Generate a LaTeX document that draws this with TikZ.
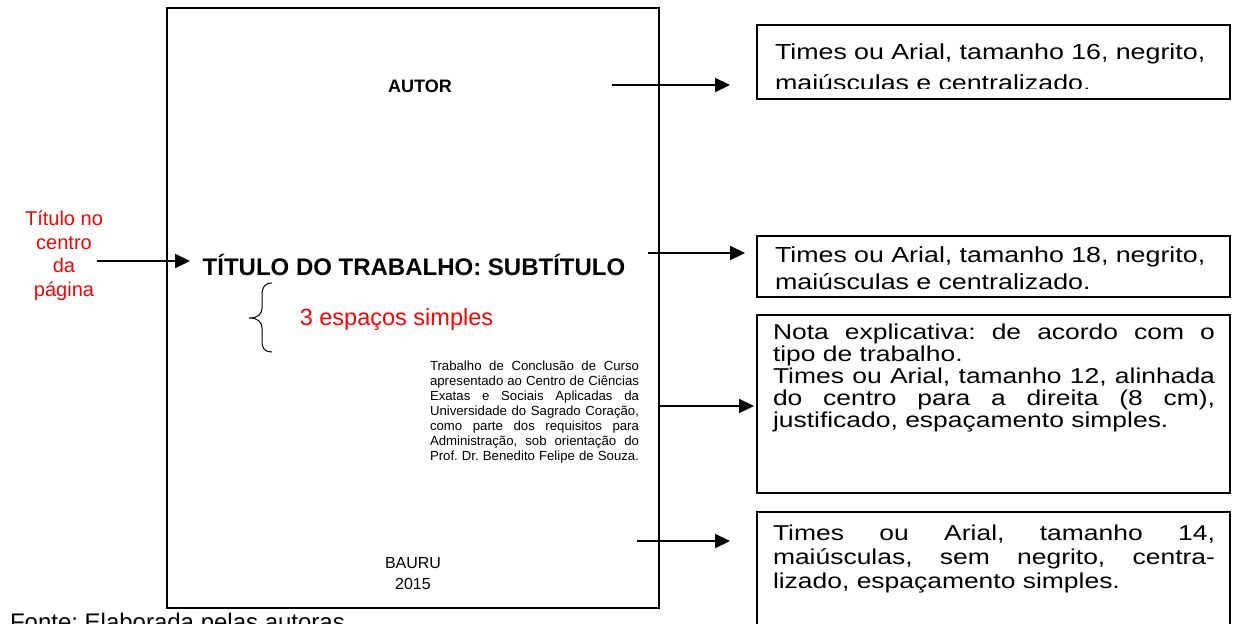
\documentclass[tikz,border=0pt]{standalone}
\usepackage{fontspec}
\setmainfont{Liberation Sans}
\newfontfamily\boxfont[FakeStretch=1.23]{Liberation Sans}
\usetikzlibrary{arrows.meta}
\definecolor{redtxt}{RGB}{255,0,0}
\frenchspacing
\begin{document}
\begin{tikzpicture}[x=1pt,y=-1pt,
  every node/.style={inner sep=0pt, outer sep=0pt},
  arr/.style={line width=2.2pt, -{Triangle[length=15pt,width=14pt]}},
  rbox/.style={draw, line width=1.6pt, minimum width=473pt},
  pagebox/.style={draw, line width=1.6pt},
  boxtxt/.style={anchor=base west, text width=#1, align=left},
  jtxt/.style={anchor=base west, text width=#1, align=justify},
  redlabel/.style={text=redtxt}]
\useasboundingbox (0,0) rectangle (1243,624);
\clip (0,0) rectangle (1243,624);

% page
\node[pagebox, minimum width=492pt, minimum height=600pt] (page) at (413,308) {};

\node[anchor=base, font={\bfseries\fontsize{18pt}{21pt}\selectfont}] (autor) at (420,92) {AUTOR};
\node[anchor=base, font={\bfseries\fontsize{24pt}{28pt}\selectfont}] (titulo) at (414,275) {TÍTULO DO TRABALHO: SUBTÍTULO};
\node[anchor=base, redlabel, font={\fontsize{23.5pt}{28pt}\selectfont}] (espacos) at (396.5,325) {3 espaços simples};
\draw[line width=1pt] (272,283) .. controls (265,283) and (262,287) .. (262,295) -- (262,308)
  .. controls (262,314) and (258,318) .. (249,318)
  .. controls (258,318) and (262,322) .. (262,328) -- (262,341)
  .. controls (262,349) and (265,352) .. (272,352);

\node[jtxt=209pt, font={\fontsize{13.2pt}{15pt}\selectfont}] (nota) at (430,370)
  {\parfillskip=0pt Trabalho de Conclusão de Curso\linebreak apresentado ao Centro de Ciências\linebreak Exatas e Sociais Aplicadas da\linebreak Universidade do Sagrado Coração,\linebreak como parte dos requisitos para\linebreak Administração, sob orientação do\linebreak Prof. Dr. Benedito Felipe de Souza.\par};

\node[anchor=base, align=center, font={\fontsize{16pt}{21pt}\selectfont}] (bauru) at (413,589) {BAURU\\2015};

% left label
\node[anchor=base, align=center, redlabel, font={\fontsize{20pt}{23.5pt}\selectfont}] (centro) at (64,296) {Título no\\centro\\da\\página};

% source
\node[anchor=base west, font={\fontsize{24pt}{28pt}\selectfont}] (fonte) at (10,630) {Fonte: Elaborada pelas autoras};

% right boxes
\node[rbox, minimum height=74pt] (b1) at (993.5,62) {};
\node[rbox, minimum height=61pt] (b2) at (993.5,266.5) {};
\node[rbox, minimum height=178pt] (b3) at (993.5,404) {};
\node[rbox, minimum height=128pt] (b4) at (993.5,576) {};

\begin{scope}
\clip (757,25) rectangle (1230,88);
\node[boxtxt=450pt, font={\boxfont\fontsize{21.8pt}{31pt}\selectfont}] (t1) at (775,59)
  {Times ou Arial, tamanho 16, negrito,\\maiúsculas e centralizado.};
\end{scope}
\node[boxtxt=450pt, font={\boxfont\fontsize{21.8pt}{27pt}\selectfont}] (t2) at (775,262)
  {Times ou Arial, tamanho 18, negrito,\\maiúsculas e centralizado.};
\node[jtxt=442pt, font={\boxfont\fontsize{21.5pt}{22pt}\selectfont}] (t3) at (773,339)
  {Nota explicativa: de acordo com o\linebreak tipo de trabalho.\\ Times ou Arial, tamanho 12, alinhada\linebreak do centro para a direita (8 cm),\linebreak justificado, espaçamento simples.};
\node[jtxt=442pt, font={\boxfont\fontsize{21.5pt}{24pt}\selectfont}] (t4) at (773,540)
  {Times ou Arial, tamanho 14,\linebreak maiúsculas, sem negrito, centra-\linebreak lizado, espaçamento simples.};

% arrows
\coordinate (s0) at (97,261);   \coordinate (e0) at (190,261);
\coordinate (s1) at (612,85);   \coordinate (e1) at (730,85);
\coordinate (s2) at (648,253);  \coordinate (e2) at (745,253);
\coordinate (s3) at (660,406);  \coordinate (e3) at (754,406);
\coordinate (s4) at (637,541);  \coordinate (e4) at (730,541);
\draw[arr] (s0) -- (e0);
\draw[arr] (s1) -- (e1);
\draw[arr] (s2) -- (e2);
\draw[arr] (s3) -- (e3);
\draw[arr] (s4) -- (e4);
\end{tikzpicture}
\end{document}
